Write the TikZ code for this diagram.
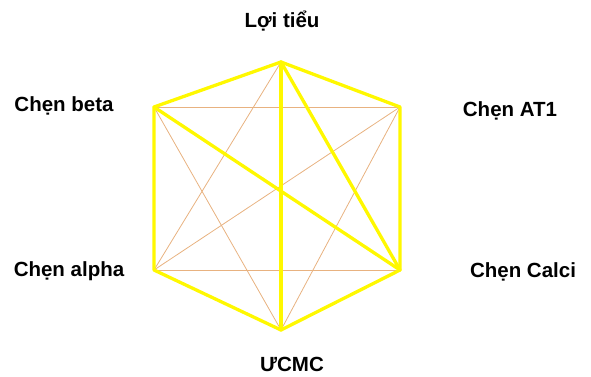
\documentclass[tikz,border=0pt]{standalone}
\usepackage{fontspec}
\setmainfont{Liberation Sans}
\usepackage{tikz}
\usetikzlibrary{calc,positioning}
\definecolor{thickyellow}{RGB}{255,248,0}
\definecolor{thintan}{RGB}{232,178,128}

\begin{document}
\begin{tikzpicture}[
    x=1pt, y=-1pt,
    label/.style={font=\bfseries\fontsize{20.5}{22}\selectfont, text=black, inner sep=0pt},
    strong/.style={draw=thickyellow, line width=3.3pt, line cap=round, line join=round},
    weak/.style={draw=thintan, line width=0.8pt}
  ]
    \useasboundingbox (0,0) rectangle (591,376);

    \coordinate (diu) at (281,62);
    \coordinate (beta) at (154,107);
    \coordinate (at) at (400,107);
    \coordinate (alpha) at (154,270);
    \coordinate (calci) at (400,270);
    \coordinate (ucmc) at (281,330);

    \node[label] (diutext) at (282,21) {Lợi tiểu};
    \node[label] (betatext) at (64,106) {Chẹn beta};
    \node[label] (attext) at (510,111) {Chẹn AT1};
    \node[label] (alphatext) at (69,271) {Chẹn alpha};
    \node[label] (calcitext) at (523,272) {Chẹn Calci};
    \node[label] (ucmctext) at (292,364) {ƯCMC};

    \draw[weak] (beta) -- (at);
    \draw[weak] (alpha) -- (calci);
    \draw[weak] (beta) -- (ucmc);
    \draw[weak] (diu) -- (alpha);
    \draw[weak] (at) -- (alpha);
    \draw[weak] (at) -- (ucmc);

    \draw[strong] (diu) -- (beta) -- (alpha) -- (ucmc) -- (calci) -- (at) -- cycle;
    \draw[strong] (diu) -- (ucmc);
    \draw[strong] (beta) -- (calci);
    \draw[strong] (diu) -- (calci);
  \end{tikzpicture}
\end{document}
